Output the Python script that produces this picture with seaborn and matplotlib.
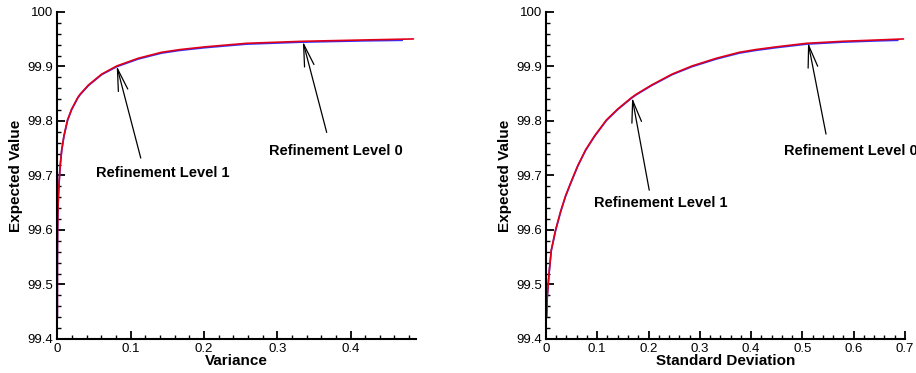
# Expected value vs variance / standard deviation, two refinement levels
import numpy as np
import pandas as pd
import matplotlib
matplotlib.use('Agg')
import matplotlib.pyplot as plt
from matplotlib.ticker import MultipleLocator, FuncFormatter
import seaborn as sns

# valores (desviacion estandar -> valor esperado)
sd_red = [0.0013, 0.0026, 0.006, 0.0104, 0.0188, 0.0286, 0.038, 0.048, 0.062, 0.0773,
          0.095, 0.118, 0.140, 0.167, 0.176, 0.206, 0.246, 0.285, 0.332, 0.377,
          0.409, 0.449, 0.508, 0.579, 0.646, 0.697]
ev_red = [99.441, 99.478, 99.520, 99.563, 99.600, 99.634, 99.662, 99.686, 99.718, 99.747,
          99.773, 99.802, 99.822, 99.843, 99.849, 99.866, 99.886, 99.901, 99.915, 99.926,
          99.931, 99.936, 99.9425, 99.9462, 99.9486, 99.9505]

sd_blue = [0.0013, 0.0026, 0.006, 0.0104, 0.0188, 0.0286, 0.038, 0.048, 0.062, 0.0773,
           0.095, 0.118, 0.140, 0.167, 0.176, 0.206, 0.246, 0.285, 0.332, 0.377,
           0.409, 0.449, 0.508, 0.579, 0.646, 0.686]
ev_blue = [99.440, 99.477, 99.519, 99.562, 99.599, 99.633, 99.661, 99.685, 99.717, 99.746,
           99.772, 99.801, 99.821, 99.842, 99.848, 99.865, 99.885, 99.8997, 99.9136, 99.9245,
           99.9295, 99.9345, 99.941, 99.9447, 99.947, 99.948]

df_red = pd.DataFrame({'sd': sd_red, 'ev': ev_red})
df_red['var'] = df_red['sd'] ** 2
df_blue = pd.DataFrame({'sd': sd_blue, 'ev': ev_blue})
df_blue['var'] = df_blue['sd'] ** 2

sns.set_style('ticks')
plt.rcParams['font.family'] = ['Liberation Sans', 'DejaVu Sans']
plt.rcParams['text.color'] = 'black'
plt.rcParams['axes.labelcolor'] = 'black'
plt.rcParams['xtick.color'] = 'black'
plt.rcParams['ytick.color'] = 'black'

fig = plt.figure(figsize=(9.16, 3.73), dpi=100)
ax1 = fig.add_axes([0.0626, 0.0912, 0.3916, 0.8767])
ax2 = fig.add_axes([0.596, 0.0912, 0.392, 0.8767])

fmt = FuncFormatter(lambda v, p: '%g' % round(v, 4))


def style_axis(ax, xmax, xlabel):
    ax.set_xlim(0, xmax)
    ax.set_ylim(99.4, 100)
    ax.xaxis.set_major_locator(MultipleLocator(0.1))
    ax.xaxis.set_minor_locator(MultipleLocator(0.02))
    ax.yaxis.set_major_locator(MultipleLocator(0.1))
    ax.yaxis.set_minor_locator(MultipleLocator(0.02))
    ax.xaxis.set_major_formatter(fmt)
    ax.yaxis.set_major_formatter(fmt)
    ax.tick_params(which='major', direction='in', length=5.5, width=1.3,
                   labelsize=9.5, color='black')
    ax.tick_params(which='minor', direction='in', length=3.2, width=1.0, color='black')
    ax.tick_params(axis='x', pad=3.2)
    ax.tick_params(axis='y', pad=3)
    for s in ['top', 'right']:
        ax.spines[s].set_visible(False)
    for s in ['left', 'bottom']:
        ax.spines[s].set_linewidth(1.5)
        ax.spines[s].set_color('black')
    ax.set_xlabel(xlabel, fontsize=11, fontweight='bold', labelpad=-1)
    ax.set_ylabel('Expected Value', fontsize=11, fontweight='bold', labelpad=3)


# panel izquierdo: varianza
sns.lineplot(data=df_blue, x='var', y='ev', ax=ax1, color='#3030ff', lw=1.2,
             estimator=None, sort=False)
sns.lineplot(data=df_red, x='var', y='ev', ax=ax1, color='#e0001a', lw=1.2,
             estimator=None, sort=False)
style_axis(ax1, 0.4894, 'Variance')

# panel derecho: desviacion estandar
sns.lineplot(data=df_blue, x='sd', y='ev', ax=ax2, color='#3030ff', lw=1.2,
             estimator=None, sort=False)
sns.lineplot(data=df_red, x='sd', y='ev', ax=ax2, color='#e0001a', lw=1.2,
             estimator=None, sort=False)
style_axis(ax2, 0.7, 'Standard Deviation')

arrow = dict(arrowstyle='->,head_length=1.6,head_width=0.35', color='black',
             lw=0.9, mutation_scale=10, shrinkA=0, shrinkB=0)

# flechas y textos
ax1.annotate('', xy=(0.081, 99.901), xytext=(0.1138, 99.732), arrowprops=arrow)
ax1.text(0.1435, 99.705, 'Refinement Level 1', fontsize=10.5, fontweight='bold',
         ha='center', va='center')
ax1.annotate('', xy=(0.335, 99.946), xytext=(0.3675, 99.779), arrowprops=arrow)
ax1.text(0.3795, 99.745, 'Refinement Level 0', fontsize=10.5, fontweight='bold',
         ha='center', va='center')

ax2.annotate('', xy=(0.168, 99.843), xytext=(0.2014, 99.673), arrowprops=arrow)
ax2.text(0.2248, 99.649, 'Refinement Level 1', fontsize=10.5, fontweight='bold',
         ha='center', va='center')
ax2.annotate('', xy=(0.511, 99.944), xytext=(0.546, 99.776), arrowprops=arrow)
ax2.text(0.464, 99.744, 'Refinement Level 0', fontsize=10.5, fontweight='bold',
         ha='left', va='center', clip_on=False)

fig.savefig('out.png', dpi=100)
